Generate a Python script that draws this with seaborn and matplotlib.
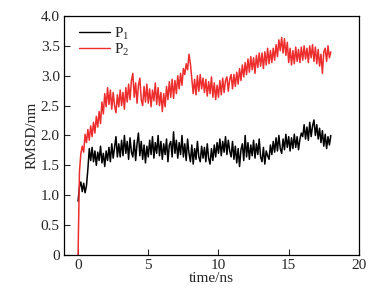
import numpy as np
import pandas as pd
import seaborn as sns
import matplotlib
matplotlib.use("Agg")
import matplotlib.pyplot as plt

# time axis, 0.1 ns steps
time_ns = np.round(np.arange(0, 18.01, 0.1), 1)

# RMSD (nm)
p2_rmsd = [
    0.00, 1.40, 1.70, 1.82, 1.72, 2.02, 1.88, 2.10, 1.92, 2.16,
    1.98, 2.22, 2.04, 2.32, 2.14, 2.40, 2.20, 2.56, 2.36, 2.70,
    2.48, 2.80, 2.52, 2.76, 2.44, 2.72, 2.50, 2.38, 2.68, 2.48,
    2.76, 2.50, 2.72, 2.44, 2.80, 2.56, 2.86, 2.60, 2.92, 3.04,
    2.64, 2.88, 2.54, 2.84, 2.96, 2.60, 2.50, 2.82, 2.56, 2.86,
    2.54, 2.78, 2.48, 2.76, 2.58, 2.88, 2.52, 2.80, 2.50, 2.72,
    2.40, 2.70, 2.48, 2.82, 2.60, 2.90, 2.64, 2.94, 2.62, 2.92,
    2.70, 3.00, 2.78, 3.04, 2.84, 3.12, 3.02, 3.20, 3.10, 3.36,
    3.20, 2.94, 2.70, 2.94, 2.68, 3.00, 2.74, 3.02, 2.78, 2.96,
    2.72, 2.94, 2.66, 2.90, 2.70, 2.98, 2.64, 2.88, 2.60, 2.84,
    2.64, 2.92, 2.68, 2.96, 2.72, 2.92, 2.98, 2.74, 2.94, 3.02,
    2.78, 3.02, 2.82, 3.06, 2.86, 3.12, 2.92, 3.18, 2.98, 3.22,
    3.02, 3.28, 3.06, 3.32, 3.10, 3.30, 3.04, 3.34, 3.14, 3.38,
    3.16, 3.38, 3.12, 3.40, 3.18, 3.46, 3.20, 3.42, 3.22, 3.46,
    3.26, 3.52, 3.32, 3.60, 3.42, 3.64, 3.38, 3.62, 3.34, 3.56,
    3.22, 3.46, 3.18, 3.42, 3.20, 3.48, 3.24, 3.44, 3.22, 3.48,
    3.26, 3.50, 3.28, 3.46, 3.22, 3.50, 3.30, 3.52, 3.24, 3.48,
    3.20, 3.44, 3.16, 3.36, 3.04, 3.40, 3.46, 3.24, 3.50, 3.30,
    3.40,
]

p1_rmsd = [
    0.90, 1.14, 1.22, 1.06, 1.20, 1.04, 1.16, 1.44, 1.78, 1.58,
    1.80, 1.56, 1.74, 1.50, 1.72, 1.58, 1.82, 1.54, 1.70, 1.48,
    1.74, 1.58, 1.80, 1.56, 1.86, 1.62, 1.80, 1.98, 1.64, 1.86,
    1.64, 1.92, 1.66, 2.00, 1.70, 1.90, 1.60, 1.96, 1.72, 1.64,
    1.92, 1.58, 1.86, 2.04, 1.66, 1.90, 1.60, 1.84, 1.54, 1.82,
    1.64, 1.92, 1.68, 1.98, 1.62, 1.88, 1.70, 2.00, 1.66, 1.90,
    1.60, 1.86, 1.68, 1.94, 1.56, 1.84, 1.90, 1.64, 2.06, 1.70,
    1.92, 1.62, 1.88, 1.68, 2.00, 1.64, 1.86, 1.58, 1.94, 1.70,
    1.56, 1.84, 1.52, 1.78, 1.60, 1.90, 1.64, 1.56, 1.82, 1.62,
    1.80, 1.56, 1.86, 1.62, 1.52, 1.78, 1.58, 1.84, 1.64, 1.88,
    1.70, 1.94, 1.66, 1.90, 1.72, 1.98, 1.68, 1.92, 1.74, 1.64,
    1.90, 1.60, 1.82, 1.54, 1.78, 1.48, 1.76, 1.86, 1.58, 2.00,
    1.64, 1.88, 1.60, 1.84, 1.66, 1.92, 1.62, 1.86, 1.68, 1.94,
    1.64, 1.56, 1.80, 1.52, 1.74, 1.66, 1.60, 1.84, 1.68, 1.90,
    1.72, 1.96, 1.74, 2.00, 1.78, 1.70, 1.94, 1.76, 2.02, 1.80,
    1.98, 1.74, 1.96, 1.78, 2.02, 1.80, 1.98, 1.76, 1.94, 2.04,
    1.98, 2.18, 1.94, 2.14, 1.92, 2.22, 1.98, 2.16, 2.26, 2.00,
    2.18, 1.94, 2.12, 1.88, 2.08, 1.82, 2.02, 1.78, 1.98, 1.84,
    2.00,
]

series_names = ["P$_1$", "P$_2$"]
colors = ["black", "#ee2d2d"]

df = pd.concat([
    pd.DataFrame({"time": time_ns, "rmsd": p1_rmsd, "series": series_names[0]}),
    pd.DataFrame({"time": time_ns, "rmsd": p2_rmsd, "series": series_names[1]}),
])

sns.set_style("ticks")
plt.rcParams["font.family"] = ["Liberation Serif", "DejaVu Serif"]
plt.rcParams["mathtext.fontset"] = "custom"
plt.rcParams["mathtext.rm"] = "Liberation Serif"

fig = plt.figure(figsize=(3.88, 3.02), dpi=100)
ax = fig.add_axes([0.165, 0.156, 0.76, 0.791])

sns.lineplot(data=df, x="time", y="rmsd", hue="series", palette=colors,
             estimator=None, linewidth=1.1, ax=ax)

ax.set_xlim(-1, 20)
ax.set_ylim(0, 4.0)
ax.set_xticks([0, 5, 10, 15, 20])
ax.set_yticks(np.arange(0, 4.01, 0.5))
ax.set_yticklabels(["0"] + [f"{v:.1f}" for v in np.arange(0.5, 4.01, 0.5)])
ax.tick_params(direction="in", length=4, width=0.8, labelsize=11, pad=3)
for s in ax.spines.values():
    s.set_linewidth(0.9)
    s.set_color("black")

ax.set_xlabel("time/ns", fontsize=11, labelpad=0)
ax.set_ylabel("RMSD/nm", fontsize=11, labelpad=2)

leg = ax.legend(loc="upper left", frameon=False, fontsize=11, handlelength=2.0,
                handletextpad=0.3, labelspacing=-0.05, borderaxespad=0.2,
                bbox_to_anchor=(0.02, 1.0))
for line in leg.get_lines():
    line.set_linewidth(1.0)

fig.savefig("out.png", dpi=100)
